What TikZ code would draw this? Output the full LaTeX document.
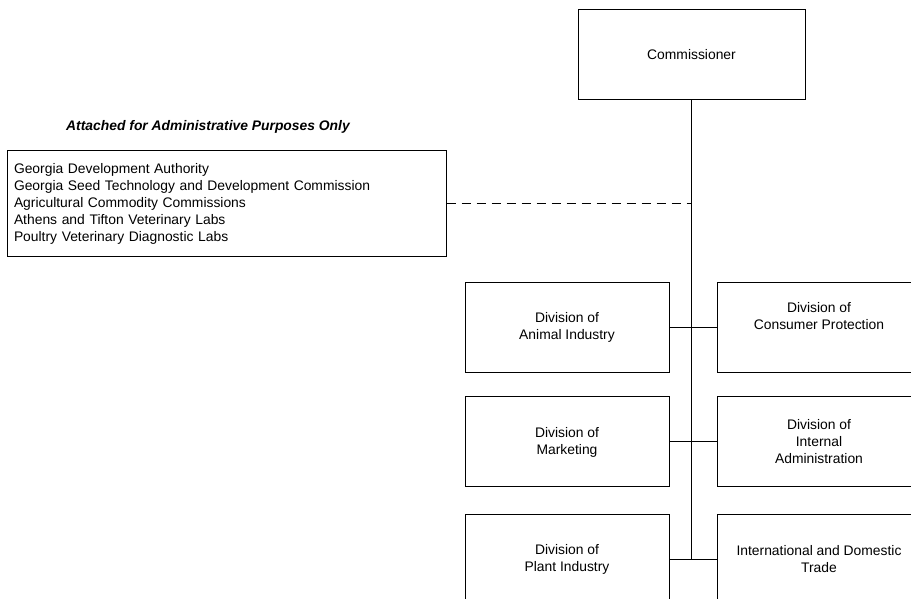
\documentclass[tikz,border=0pt]{standalone}
\usepackage{fontspec}
\setsansfont{Liberation Sans}
\tikzset{every picture/.style={/utils/exec={\sffamily}}}
\usetikzlibrary{positioning}
\tikzset{
  orgbox/.style={draw, align=center, minimum width=153pt, minimum height=67.5pt,
    font=\fontsize{10.4}{12.75}\selectfont},
}

\begin{document}
\begin{tikzpicture}[x=0.75pt, y=-0.75pt, line width=0.75pt]
  \clip (0,0) rectangle (911,599);

  \node [orgbox, minimum width=170.25pt, minimum height=67.5pt] (comm) at (691.5,55) {Commissioner};

  % attached agencies
  \node [font=\fontsize{10.4}{12.75}\selectfont\bfseries\itshape] (attachtitle) at (208,127) {Attached for Administrative Purposes Only};
  \node [draw, align=left, text width=318.75pt, inner xsep=5.25pt, minimum height=79.5pt,
    font=\fontsize{10.4}{12.75}\selectfont] (attached) at (226.5,204)
    {Georgia Development Authority\\
     Georgia Seed Technology and Development Commission\\
     Agricultural Commodity Commissions\\
     Athens and Tifton Veterinary Labs\\
     Poultry Veterinary Diagnostic Labs};

  % divisions
  \node [orgbox] (animal) at (567,327.5) {Division of\\Animal Industry};
  \node [orgbox, right=35.25pt of animal] (consumer) {Division of\\Consumer Protection\\\strut};
  \node [orgbox, below=17.6pt of animal] (marketing) {Division of\\Marketing};
  \node [orgbox, right=35.25pt of marketing] (internal) {Division of\\Internal\\Administration};
  \node [orgbox, below=19.9pt of marketing] (plant) {Division of\\Plant Industry};
  \node [orgbox, right=35.25pt of plant] (trade) {International and Domestic\\Trade};

  \coordinate (trunkend) at (comm.south |- plant.east);
  \coordinate (dashend) at (comm.south |- attached.east);

  \draw (comm) -- (trunkend);
  \draw [dash pattern=on 6.75pt off 4.5pt] (attached) -- (dashend);
  \draw (animal) -- (consumer);
  \draw (marketing) -- (internal);
  \draw (plant) -- (trade);
\end{tikzpicture}
\end{document}
